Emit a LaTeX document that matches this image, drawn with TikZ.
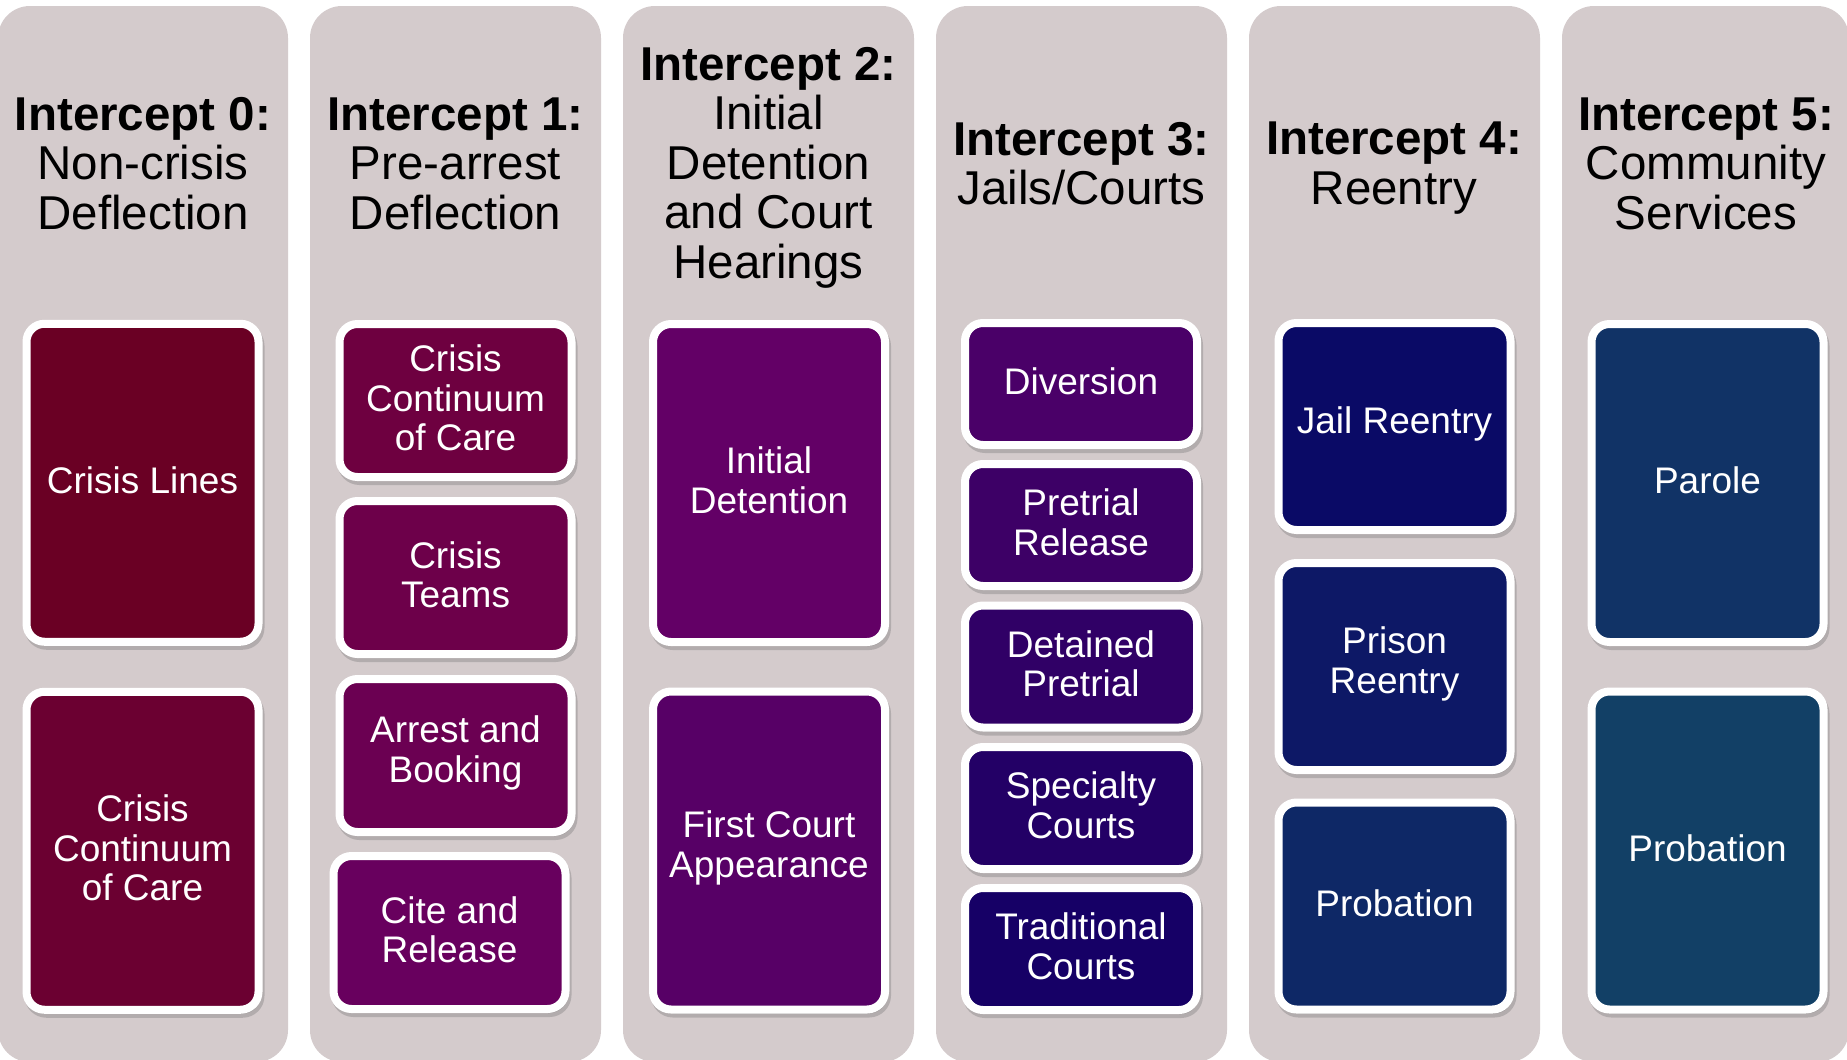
\documentclass[tikz,border=0pt]{standalone}
\usepackage{fontspec}
\setmainfont{Liberation Sans}
\definecolor{panelc}{HTML}{D4CBCC}
\definecolor{ca}{HTML}{6A0024}
\definecolor{cb}{HTML}{6B0031}
\definecolor{cc}{HTML}{6E0040}
\definecolor{cd}{HTML}{6D004A}
\definecolor{ce}{HTML}{6B0052}
\definecolor{cf}{HTML}{68005E}
\definecolor{cg}{HTML}{630066}
\definecolor{ch}{HTML}{570066}
\definecolor{ci}{HTML}{4A0068}
\definecolor{cj}{HTML}{3D0066}
\definecolor{ck}{HTML}{300066}
\definecolor{cl}{HTML}{230066}
\definecolor{cm}{HTML}{160066}
\definecolor{cn}{HTML}{0A0A66}
\definecolor{co}{HTML}{0D1866}
\definecolor{cp}{HTML}{0E2866}
\definecolor{cq}{HTML}{113366}
\definecolor{cr}{HTML}{124066}
\begin{document}
\begin{tikzpicture}[x=1pt,y=-1pt,
  panelbox/.style={fill=panelc, draw=none, rounded corners=32pt},
  title/.style={align=center, font=\fontsize{47.5}{49.5}\selectfont, text=black, inner sep=0pt},
  card/.style={draw=white, line width=8pt, rounded corners=18pt,
    minimum width=232pt, inner sep=0pt, outer sep=0pt,
    preaction={draw=black!60, fill=black!60, opacity=0.3, transform canvas={shift={(2pt,-4pt)}}}},
  cardtext/.style={text=white, align=center, font=\fontsize{37}{39.5}\selectfont, inner sep=0pt},
  tall/.style={card, minimum height=318pt},
  half/.style={card, minimum height=153pt},
  fifth/.style={card, minimum height=122pt},
  third/.style={card, minimum height=207pt}
]
\useasboundingbox (0,0) rectangle (1847,1060);
\clip (0,0) rectangle (1847,1060);
\fill[white] (0,0) rectangle (1847,1060);
% panels
\path[panelbox] (-2,6) rectangle (288,1062);
\path[panelbox] (310,6) rectangle (601,1062);
\path[panelbox] (623,6) rectangle (914,1062);
\path[panelbox] (936,6) rectangle (1227,1062);
\path[panelbox] (1249,6) rectangle (1540,1062);
\path[panelbox] (1562,6) rectangle (1849,1062);
% titles
\node[title] (t0) at (143,163.5) {\textbf{Intercept 0:}\\Non-crisis\\Deflection};
\node[title] (t1) at (455.5,163.5) {\textbf{Intercept 1:}\\Pre-arrest\\Deflection};
\node[title] (t2) at (768.5,167.5) {\textbf{Intercept 2:}\\Initial\\Detention\\and Court\\Hearings};
\node[title] (t3) at (1081.5,163.5) {\textbf{Intercept 3:}\\Jails/Courts};
\node[title] (t4) at (1394,168) {\textbf{Intercept 4:}\\Reentry};
\node[title] (t5) at (1706,163.5) {\textbf{Intercept 5:}\\Community\\Services};
% column 0
\node[tall, fill=ca] (a1) at (142.5,482.75) {};
\node[tall, fill=cb] (a2) at (142.5,850.75) {};
% column 1
\node[half, fill=cc] (b1) at (455.5,400.5) {};
\node[half, fill=cd] (b2) at (455.5,577.5) {};
\node[half, fill=ce] (b3) at (455.5,755.5) {};
\node[half, fill=cf] (b4) at (449.5,932.5) {};
% column 2
\node[tall, fill=cg] (c1) at (769,483) {};
\node[tall, fill=ch] (c2) at (769,850.5) {};
% column 3
\node[fifth, fill=ci] (d1) at (1081,384) {};
\node[fifth, fill=cj] (d2) at (1081,525) {};
\node[fifth, fill=ck] (d3) at (1081,666.5) {};
\node[fifth, fill=cl] (d4) at (1081,808) {};
\node[fifth, fill=cm] (d5) at (1081,949) {};
% column 4
\node[third, fill=cn] (e1) at (1394.5,426.5) {};
\node[third, fill=co] (e2) at (1394.5,666.5) {};
\node[third, fill=cp] (e3) at (1394.5,906) {};
% column 5
\node[tall, fill=cq] (f1) at (1707.5,483) {};
\node[tall, fill=cr] (f2) at (1707.5,850.5) {};
% card texts
\node[cardtext] (a1t) at ([yshift=2.5pt]a1.center) {Crisis Lines};
\node[cardtext] (a2t) at ([yshift=2.5pt]a2.center) {Crisis\\Continuum\\of Care};
\node[cardtext] (b1t) at ([yshift=2.5pt]b1.center) {Crisis\\Continuum\\of Care};
\node[cardtext] (b2t) at ([yshift=2.5pt]b2.center) {Crisis\\Teams};
\node[cardtext] (b3t) at ([yshift=2.5pt]b3.center) {Arrest and\\Booking};
\node[cardtext] (b4t) at ([yshift=2.5pt]b4.center) {Cite and\\Release};
\node[cardtext] (c1t) at ([yshift=2.5pt]c1.center) {Initial\\Detention};
\node[cardtext] (c2t) at ([yshift=2.5pt]c2.center) {First Court\\Appearance};
\node[cardtext] (d1t) at ([yshift=2.5pt]d1.center) {Diversion};
\node[cardtext] (d2t) at ([yshift=2.5pt]d2.center) {Pretrial\\Release};
\node[cardtext] (d3t) at ([yshift=2.5pt]d3.center) {Detained\\Pretrial};
\node[cardtext] (d4t) at ([yshift=2.5pt]d4.center) {Specialty\\Courts};
\node[cardtext] (d5t) at ([yshift=2.5pt]d5.center) {Traditional\\Courts};
\node[cardtext] (e1t) at ([yshift=2.5pt]e1.center) {Jail Reentry};
\node[cardtext] (e2t) at ([yshift=2.5pt]e2.center) {Prison\\Reentry};
\node[cardtext] (e3t) at ([yshift=2.5pt]e3.center) {Probation};
\node[cardtext] (f1t) at ([yshift=2.5pt]f1.center) {Parole};
\node[cardtext] (f2t) at ([yshift=2.5pt]f2.center) {Probation};
\end{tikzpicture}
\end{document}
